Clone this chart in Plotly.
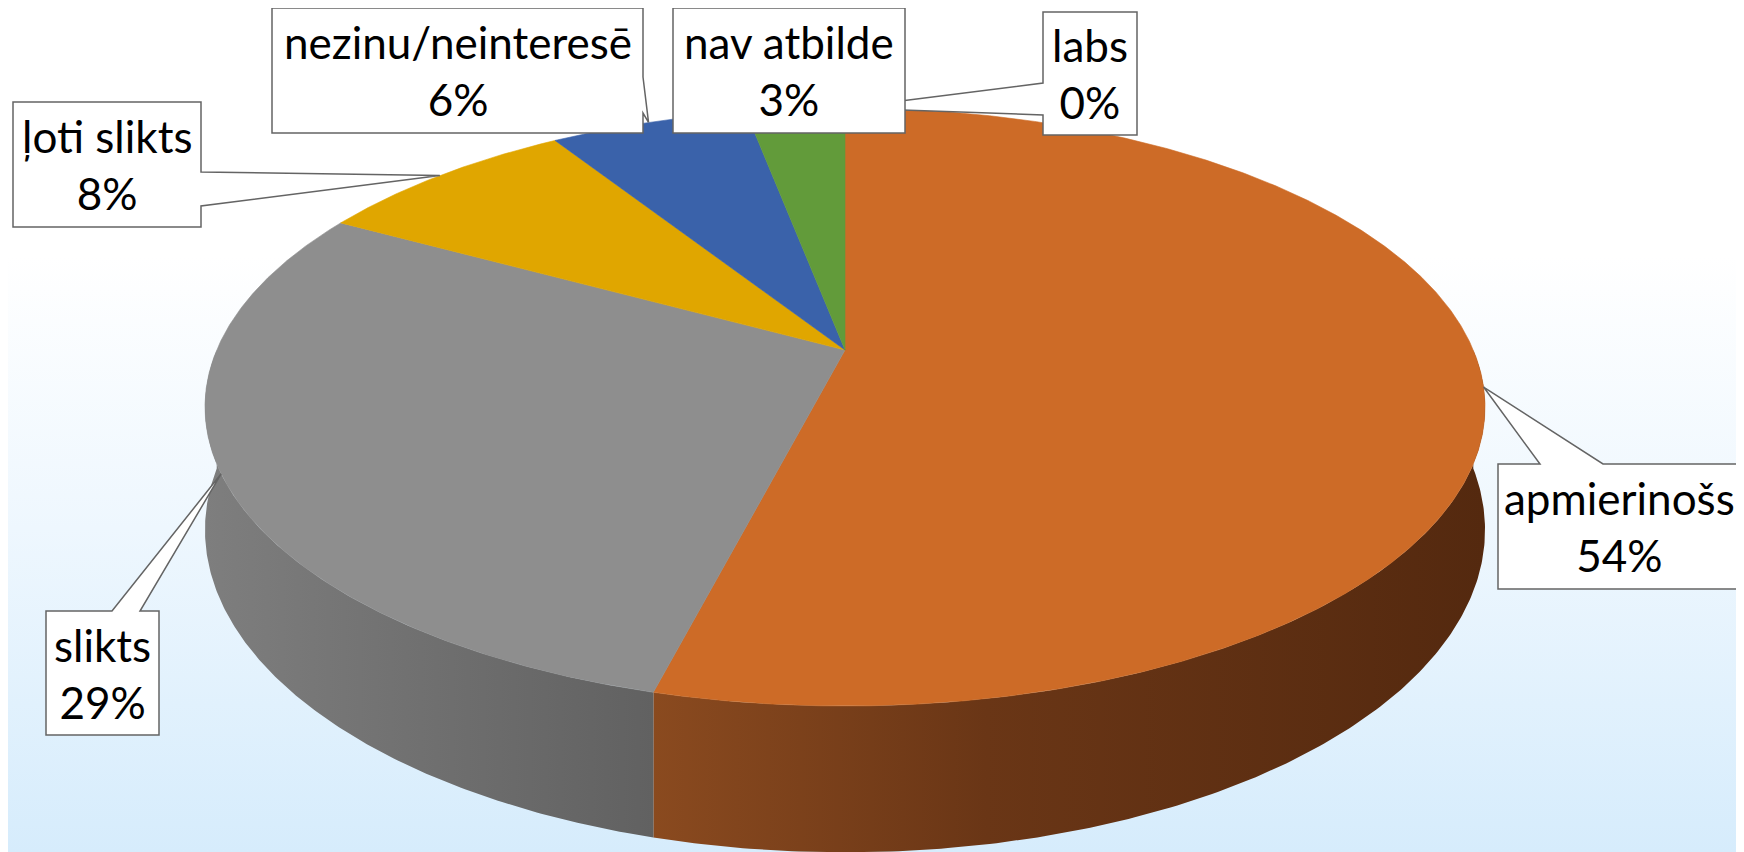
import numpy as np
import plotly.graph_objects as go

# ---------------- data ----------------
categories = ["labs", "apmierinošs", "slikts", "ļoti slikts", "nezinu/neinteresē", "nav atbilde"]
values = [0, 54, 29, 8, 6, 3]
pct_labels = ["0%", "54%", "29%", "8%", "6%", "3%"]

# ---------------- styles ----------------
top_colors = ["#4472C4", "#CD6B27", "#8E8E8E", "#E0A600", "#3A62AA", "#629B3A"]
wall_scales = [
    [[0, "#2B4A80"], [1, "#1E3560"]],
    [[0, "#8A4A1F"], [0.4, "#6A3616"], [1, "#54290F"]],
    [[0, "#7E7E7E"], [1, "#616161"]],
    [[0, "#9A7300"], [1, "#7A5B00"]],
    [[0, "#2A4A80"], [1, "#1E3560"]],
    [[0, "#46702A"], [1, "#36571F"]],
]

# page offset of the plot div (default body margin of the html page)
OFF = 8

# projection (perspective view of the pie disk), in page pixels
CX, Y0, A, B, D, T = 845.0, -1161.6, 7930.0, 3296.0, 5.246, 621.0

def proj(theta_deg, bottom=False):
    th = np.radians(np.asarray(theta_deg, dtype=float))
    u = np.sin(th)
    v = -np.cos(th)
    s = 1.0 / (D - v)
    x = CX + B * u * s
    y = Y0 + A * s + (T * s if bottom else 0.0)
    return x, y

# callout boxes: (x0, y0, x1, y1, wedge side, wedge a, wedge b, text centre x)
callouts = {
    "labs": (1043, 12, 1137, 135, "left", 83, 115, None),
    "apmierinošs": (1498, 464, 1760, 589, "top", 1540, 1603, 1619),
    "slikts": (46, 611, 159, 735, "top", 112, 140, None),
    "ļoti slikts": (13, 102, 201, 227, "right", 172, 206, None),
    "nezinu/neinteresē": (272, 8, 643, 133, "right", 77, 113, None),
    "nav atbilde": (673, 8, 905, 133, None, 0, 0, None),
}

fig = go.Figure()

# background gradient
fig.add_trace(go.Scatter(
    x=[-20, 1780, 1780, -20, -20], y=[-20, -20, 880, 880, -20], mode="lines",
    line=dict(width=0), fill="toself",
    fillgradient=dict(type="vertical", start=0, stop=852,
                      colorscale=[[0, "#FFFFFF"], [0.3, "#FFFFFF"], [0.62, "#EEF7FE"], [1, "#D6ECFC"]]),
    hoverinfo="skip", showlegend=False))

total = float(sum(values))
starts = np.concatenate([[0], np.cumsum(values)[:-1]]) / total * 360.0
ends = np.cumsum(values) / total * 360.0

# walls (front half)
for i, (a0, a1) in enumerate(zip(starts, ends)):
    lo, hi = max(a0, 90.0), min(a1, 270.0)
    if hi <= lo:
        continue
    th = np.linspace(lo, hi, 200)
    xt, yt = proj(th)
    xb, yb = proj(th[::-1], bottom=True)
    fig.add_trace(go.Scatter(
        x=np.concatenate([xt, xb, xt[:1]]), y=np.concatenate([yt, yb, yt[:1]]),
        mode="lines", line=dict(width=0), fill="toself",
        fillgradient=dict(type="horizontal", colorscale=wall_scales[i]),
        hoverinfo="skip", showlegend=False))

# top faces
apex_y = Y0 + A / D
for i, (a0, a1) in enumerate(zip(starts, ends)):
    if a1 - a0 <= 0:
        continue
    th = np.linspace(a0, a1, max(20, int((a1 - a0) * 4)))
    xr, yr = proj(th)
    fig.add_trace(go.Scatter(
        x=np.concatenate([[CX], xr, [CX]]),
        y=np.concatenate([[apex_y], yr, [apex_y]]),
        mode="lines", line=dict(width=0.6, color=top_colors[i]), fill="toself",
        fillcolor=top_colors[i], hoverinfo="skip", showlegend=False))

# callouts
shapes = []
annotations = []
for i, cat in enumerate(categories):
    x0, y0, x1, y1, side, wa, wb, tcx = callouts[cat]
    mid = (starts[i] + ends[i]) / 2.0
    tx, ty = proj(mid)
    tx, ty = float(tx), float(ty)
    if side == "right":
        path = f"M{x0},{y0} L{x1},{y0} L{x1},{wa} L{tx},{ty} L{x1},{wb} L{x1},{y1} L{x0},{y1} Z"
    elif side == "left":
        path = f"M{x0},{y0} L{x1},{y0} L{x1},{y1} L{x0},{y1} L{x0},{wb} L{tx},{ty} L{x0},{wa} Z"
    elif side == "top":
        path = f"M{x0},{y0} L{wa},{y0} L{tx},{ty} L{wb},{y0} L{x1},{y0} L{x1},{y1} L{x0},{y1} Z"
    else:
        path = f"M{x0},{y0} L{x1},{y0} L{x1},{y1} L{x0},{y1} Z"
    shapes.append(dict(type="path", path=path, xref="x", yref="y",
                       fillcolor="white", line=dict(color="#646464", width=1.5)))
    annotations.append(dict(x=tcx if tcx is not None else (x0 + x1) / 2, y=(y0 + y1) / 2,
                            xref="x", yref="y",
                            text=f"{cat}<br>{pct_labels[i]}", showarrow=False,
                            xanchor="center", yanchor="middle", align="center",
                            font=dict(family="Lato, Open Sans, sans-serif", size=44, color="#000000")))

fig.update_layout(
    width=1744, height=852,
    margin=dict(l=0, r=0, t=0, b=0),
    paper_bgcolor="white", plot_bgcolor="white",
    xaxis=dict(range=[OFF, 1744 + OFF], visible=False, fixedrange=True),
    yaxis=dict(range=[852 + OFF, OFF], visible=False, fixedrange=True),
    shapes=shapes,
    annotations=annotations,
    showlegend=False,
)

fig.write_html("out.html")
